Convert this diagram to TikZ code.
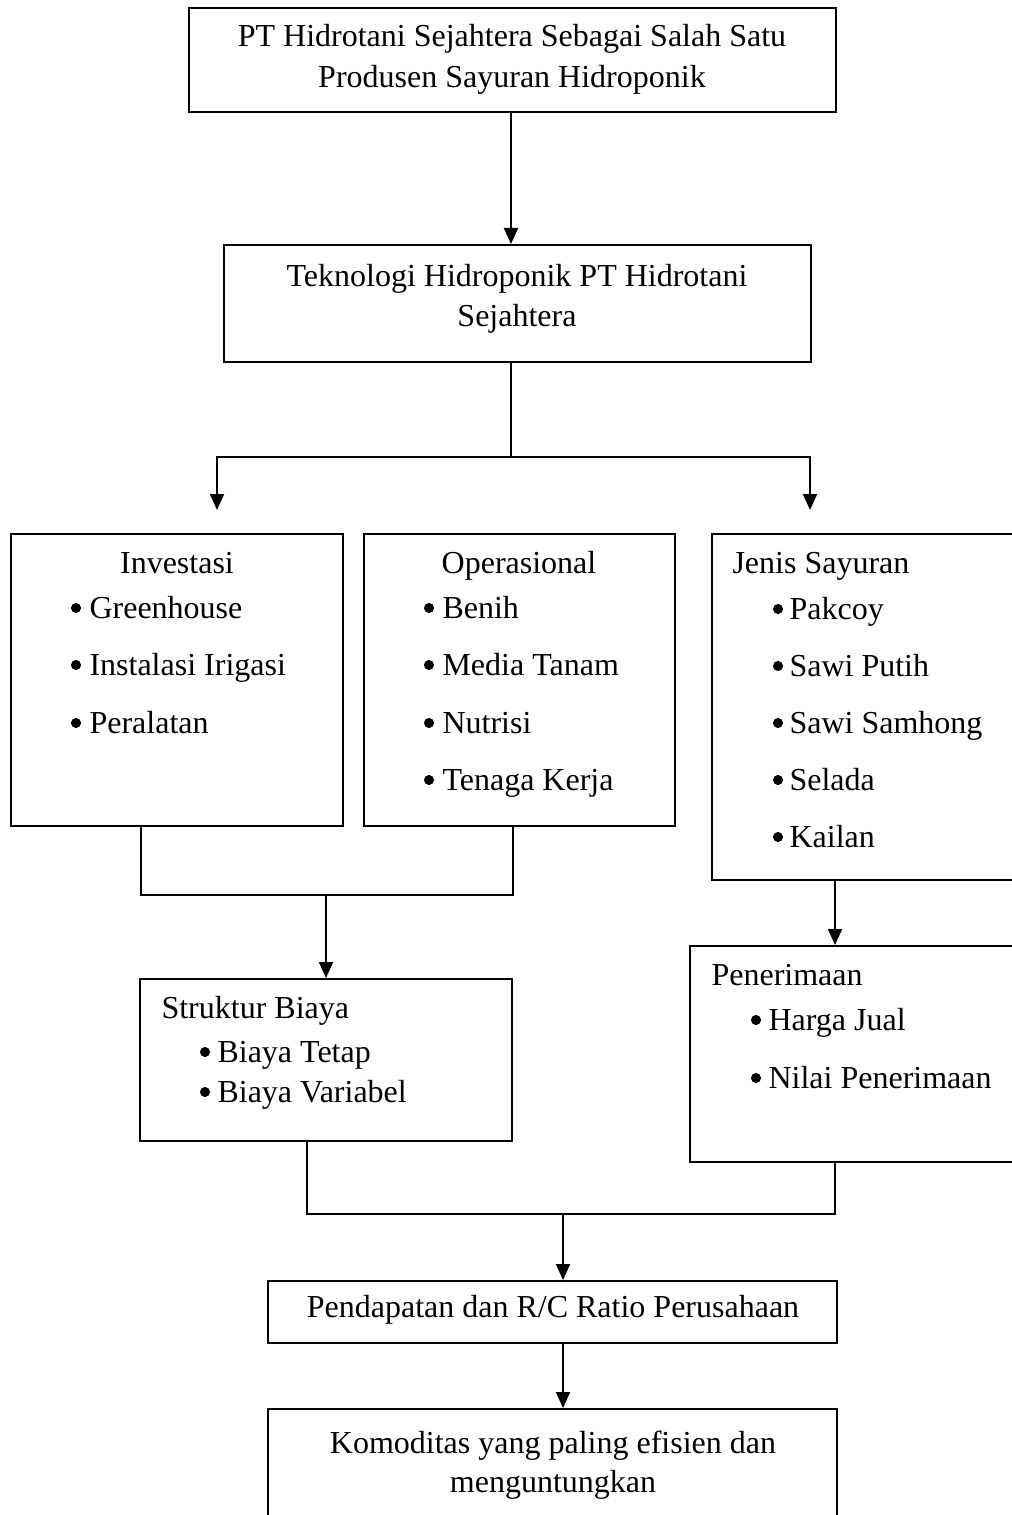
\documentclass[tikz,border=0pt]{standalone}
\usepackage{fontspec}
\setmainfont{Liberation Serif}
\usetikzlibrary{arrows.meta,fit}
\begin{document}
\begin{tikzpicture}[x=0.375pt,y=-0.375pt,
  box/.style={draw, line width=0.75pt, inner sep=0pt},
  txt/.style={anchor=base, inner sep=0pt, font=\fontsize{12pt}{15pt}\selectfont},
  lft/.style={txt, anchor=base west},
  dot/.style={circle, fill, inner sep=0pt, minimum size=3.8pt},
  ln/.style={line width=0.75pt},
  arr/.style={ln, -{Triangle[length=6pt,width=5.25pt]}}]
\useasboundingbox (0,0) rectangle (1012,1515);
\clip (0,0) rectangle (1012,1515);

% boxes
\node (b1) [box, fit={(189,8) (836,112)}] {};
\node (b2) [box, fit={(224,245) (811,362)}] {};
\node (inv) [box, fit={(11,534) (343,826)}] {};
\node (ops) [box, fit={(364,534) (675,826)}] {};
\node (jen) [box, fit={(712,534) (1040,880)}] {};
\node (sb) [box, fit={(140,979) (512,1141)}] {};
\node (pen) [box, fit={(690,946) (1040,1162)}] {};
\node (pd) [box, fit={(268,1281) (837,1343)}] {};
\node (km) [box, fit={(268,1409) (837,1540)}] {};

% texts
\node (t1a) [txt] at (512,47) {PT Hidrotani Sejahtera Sebagai Salah Satu};
\node (t1b) [txt] at (512,88) {Produsen Sayuran Hidroponik};
\node (t2a) [txt] at (517,286) {Teknologi Hidroponik PT Hidrotani};
\node (t2b) [txt] at (517,326) {Sejahtera};

\node (invt) [txt] at (177,573) {Investasi};
\node (invb1) [dot] at (76,608) {};
\node (invb2) [dot] at (76,665) {};
\node (invb3) [dot] at (76,723) {};
\node (inv1) [lft] at (89,618) {Greenhouse};
\node (inv2) [lft] at (89,675) {Instalasi Irigasi};
\node (inv3) [lft] at (89,733) {Peralatan};

\node (opst) [txt] at (519,573) {Operasional};
\node (opsb1) [dot] at (429,608) {};
\node (opsb2) [dot] at (429,665) {};
\node (opsb3) [dot] at (429,723) {};
\node (opsb4) [dot] at (429,780) {};
\node (ops1) [lft] at (442,618) {Benih};
\node (ops2) [lft] at (442,675) {Media Tanam};
\node (ops3) [lft] at (442,733) {Nutrisi};
\node (ops4) [lft] at (442,790) {Tenaga Kerja};

\node (jent) [lft] at (732,573) {Jenis Sayuran};
\node (jenb1) [dot] at (778,609) {};
\node (jenb2) [dot] at (778,666) {};
\node (jenb3) [dot] at (778,723) {};
\node (jenb4) [dot] at (778,780) {};
\node (jenb5) [dot] at (778,837) {};
\node (jen1) [lft] at (789,619) {Pakcoy};
\node (jen2) [lft] at (789,676) {Sawi Putih};
\node (jen3) [lft] at (789,733) {Sawi Samhong};
\node (jen4) [lft] at (789,790) {Selada};
\node (jen5) [lft] at (789,847) {Kailan};

\node (sbt) [lft] at (161,1018) {Struktur Biaya};
\node (sbb1) [dot] at (205,1052) {};
\node (sbb2) [dot] at (205,1092) {};
\node (sb1) [lft] at (217,1062) {Biaya Tetap};
\node (sb2) [lft] at (217,1102) {Biaya Variabel};

\node (pent) [lft] at (711,985) {Penerimaan};
\node (penb1) [dot] at (756,1020) {};
\node (penb2) [dot] at (756,1078) {};
\node (pen1) [lft] at (768,1030) {Harga Jual};
\node (pen2) [lft] at (768,1088) {Nilai Penerimaan};

\node (pdt) [txt] at (553,1317) {Pendapatan dan R/C Ratio Perusahaan};
\node (kma) [txt] at (553,1453) {Komoditas yang paling efisien dan};
\node (kmb) [txt] at (553,1492) {menguntungkan};

% connector coordinates
\coordinate (x511) at (511,0);
\coordinate (j0) at (511,457);
\coordinate (aL) at (217,510);
\coordinate (aR) at (810,510);
\coordinate (x141) at (141,0);
\coordinate (x513) at (513,0);
\coordinate (m1) at (326,895);
\coordinate (x835) at (835,0);
\coordinate (x307) at (307,0);
\coordinate (m2) at (563,1214);
\coordinate (x563) at (563,0);

% connectors
\draw[arr] (x511 |- b1.south) -- (x511 |- b2.north);
\draw[ln] (x511 |- b2.south) -- (j0);
\draw[arr] (j0) -| (aL);
\draw[arr] (j0) -| (aR);
\draw[ln] (x141 |- inv.south) |- (m1) -| (x513 |- ops.south);
\draw[arr] (m1) -- (m1 |- sb.north);
\draw[arr] (x835 |- jen.south) -- (x835 |- pen.north);
\draw[ln] (x307 |- sb.south) |- (m2) -| (x835 |- pen.south);
\draw[arr] (m2) -- (m2 |- pd.north);
\draw[arr] (x563 |- pd.south) -- (x563 |- km.north);
\end{tikzpicture}
\end{document}
